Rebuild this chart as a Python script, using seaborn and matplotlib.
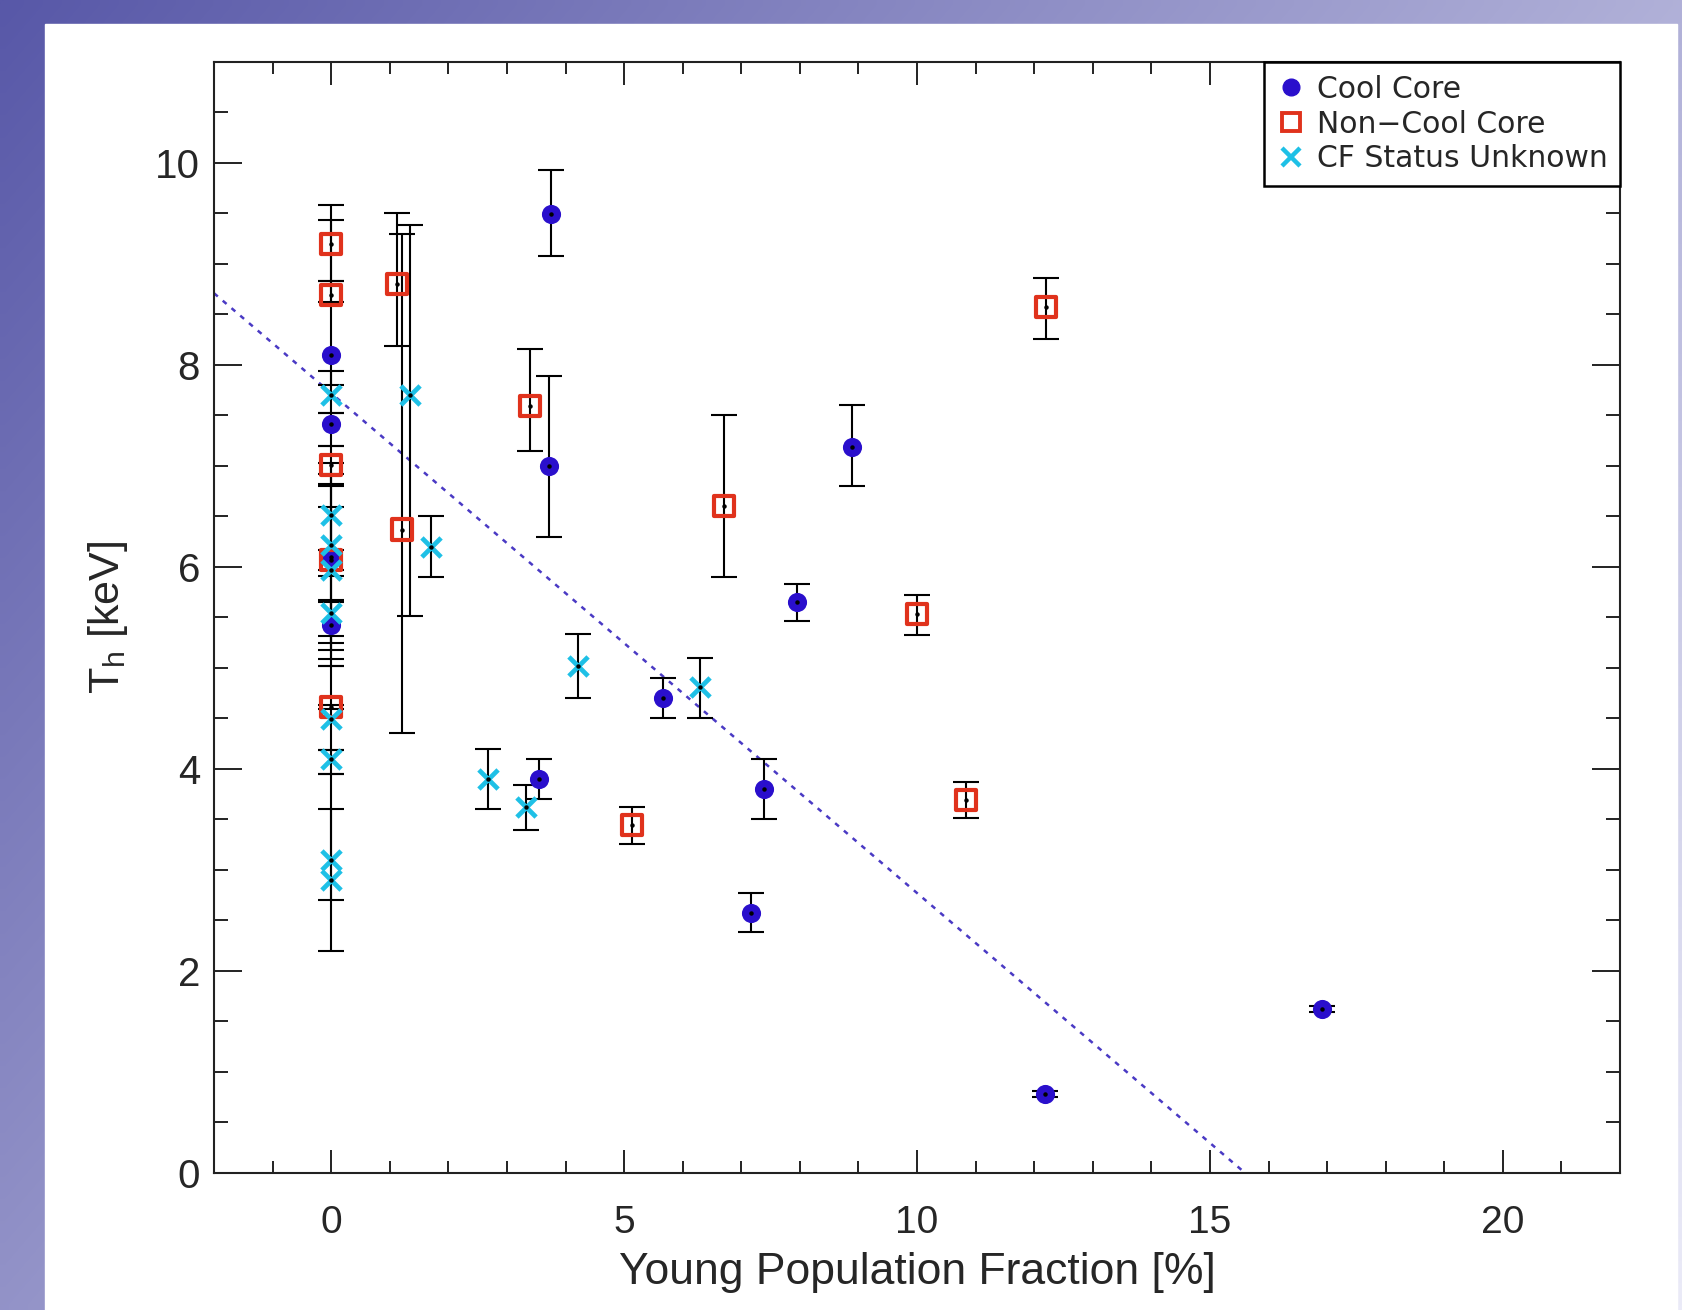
import matplotlib
matplotlib.use("Agg")
import matplotlib.pyplot as plt
from matplotlib.lines import Line2D
from matplotlib.patches import Rectangle
from matplotlib.ticker import MultipleLocator
import numpy as np
import pandas as pd
import seaborn as sns

# --- data ------------------------------------------------------------------
# Cool Core
cc_x = [0, 0, 0, 0, 3.75, 3.71, 8.89, 7.95, 5.66, 3.55, 7.39, 7.17, 12.19, 16.91]
cc_y = [8.10, 7.41, 6.10, 5.42, 9.49, 7.00, 7.19, 5.65, 4.70, 3.90, 3.80, 2.57, 0.78, 1.62]
cc_lo = [0.30, 0.21, 0.78, 0.40, 0.41, 0.70, 0.39, 0.19, 0.20, 0.20, 0.30, 0.19, 0.03, 0.03]
cc_hi = [0.73, 0.11, 0.70, 0.23, 0.44, 0.89, 0.41, 0.18, 0.20, 0.20, 0.30, 0.20, 0.03, 0.03]

# Non-Cool Core
ncc_x = [0, 0, 0, 0, 0, 1.13, 1.21, 3.39, 6.70, 5.14, 10.0, 10.83, 12.20]
ncc_y = [9.20, 8.69, 7.01, 6.07, 4.61, 8.80, 6.37, 7.59, 6.60, 3.44, 5.53, 3.69, 8.57]
ncc_lo = [0.37, 0.07, 0.19, 0.10, 0.02, 0.61, 2.02, 0.44, 0.70, 0.18, 0.20, 0.18, 0.31]
ncc_hi = [0.38, 0.75, 0.19, 0.10, 0.02, 0.70, 2.93, 0.57, 0.90, 0.18, 0.19, 0.18, 0.29]

# CF Status Unknown
unk_x = [0, 0, 0, 0, 0, 0, 0, 0, 0, 1.35, 1.70, 2.67, 3.33, 4.22, 6.29]
unk_y = [7.70, 6.51, 6.22, 5.97, 5.54, 4.49, 4.10, 3.10, 2.90, 7.70, 6.20, 3.90, 3.62, 5.02, 4.81]
unk_lo = [0.18, 0.60, 1.13, 0.72, 0.36, 0.30, 0.15, 0.40, 0.70, 2.19, 0.30, 0.30, 0.23, 0.32, 0.31]
unk_hi = [0.24, 0.52, 0.70, 0.62, 0.13, 0.53, 0.09, 0.85, 0.70, 1.69, 0.30, 0.30, 0.22, 0.32, 0.29]

group_names = ["Cool Core", "Non\u2212Cool Core", "CF Status Unknown"]

# dotted trend line y = a + b x
fit_intercept = 7.72
fit_slope = -0.495

x_limits = (-2, 22)
y_limits = (0, 11)

# --- table ------------------------------------------------------------------
frames = []
for name, xs, ys, lo, hi in [
    (group_names[0], cc_x, cc_y, cc_lo, cc_hi),
    (group_names[1], ncc_x, ncc_y, ncc_lo, ncc_hi),
    (group_names[2], unk_x, unk_y, unk_lo, unk_hi),
]:
    frames.append(pd.DataFrame({"group": name, "x": xs, "y": ys, "lo": lo, "hi": hi}))
df = pd.concat(frames, ignore_index=True)

BLUE = "#2a0fcc"
RED = "#e0321c"
CYAN = "#1ec0e6"
LINE = "#4a3ac4"

sns.set_theme(style="ticks")
plt.rcParams["font.family"] = ["Liberation Sans", "DejaVu Sans"]

W, H, DPI = 1682, 1310, 100
fig = plt.figure(figsize=(W / DPI, H / DPI), dpi=DPI)

# slide-like gradient background with a white panel
bg = fig.add_axes([0, 0, 1, 1], zorder=-10)
gy, gx = np.mgrid[0:1:131j, 0:1:168j]
t = (0.9 * gx + 0.6 * gy) / 1.5
c0 = np.array([88, 88, 168]) / 255
c1 = np.array([235, 235, 248]) / 255
grad = c0 + (c1 - c0) * t[..., None]
bg.imshow(grad, extent=[0, 1, 0, 1], aspect="auto", origin="upper", interpolation="bilinear")
bg.add_patch(Rectangle((45 / W, 0), (1677 - 45) / W, 1 - 24 / H, color="white",
                       transform=bg.transAxes))
bg.set_xlim(0, 1)
bg.set_ylim(0, 1)
bg.axis("off")

ax = fig.add_axes([214 / W, 1 - 1172.7 / H, (1620 - 214) / W, (1172.7 - 62) / H])
ax.set_facecolor("white")

# error bars first
ax.errorbar(df["x"], df["y"], yerr=[df["lo"], df["hi"]], fmt="none", ecolor="black",
            elinewidth=1.5, capsize=9.5, capthick=1.5, zorder=2)

sns.scatterplot(data=df[df["group"] == group_names[0]], x="x", y="y", ax=ax,
                marker="o", s=190, color=BLUE, edgecolor=BLUE, linewidth=0, zorder=3)
sns.scatterplot(data=df[df["group"] == group_names[1]], x="x", y="y", ax=ax,
                marker="s", s=210, facecolor="none", edgecolor=RED, linewidth=3, zorder=3)
sns.scatterplot(data=df[df["group"] == group_names[2]], x="x", y="y", ax=ax,
                marker="x", s=190, color=CYAN, linewidth=3.4, zorder=3)

# tiny black centre dots
ax.plot(df["x"], df["y"], ls="none", marker="o", ms=2.2, color="black", zorder=4)

# trend line
fit_x = np.array([x_limits[0], -fit_intercept / fit_slope])
fit_y = fit_intercept + fit_slope * fit_x
sns.lineplot(x=fit_x, y=fit_y, ax=ax, color=LINE, linewidth=1.8,
             linestyle=(0, (2, 2.6)), zorder=1)

ax.set_xlim(*x_limits)
ax.set_ylim(*y_limits)
ax.xaxis.set_major_locator(MultipleLocator(5))
ax.xaxis.set_minor_locator(MultipleLocator(1))
ax.yaxis.set_major_locator(MultipleLocator(2))
ax.yaxis.set_minor_locator(MultipleLocator(0.5))
ax.tick_params(which="both", direction="in", top=True, right=True, color="#222222")
ax.tick_params(axis="x", which="major", length=16.5, width=1.4, pad=23, labelsize=28)
ax.tick_params(axis="x", which="minor", length=8.5, width=1.4)
ax.tick_params(axis="y", which="major", length=20, width=1.4, pad=10, labelsize=29)
ax.tick_params(axis="y", which="minor", length=10, width=1.4)
for sp in ax.spines.values():
    sp.set_linewidth(1.5)
    sp.set_color("#222222")

ax.set_xlabel("Young Population Fraction [%]", fontsize=32)
ax.set_ylabel(r"$\mathregular{T_h}$ [keV]", fontsize=31)
ax.xaxis.set_label_coords(0.5, -0.071)
ax.yaxis.set_label_coords(-0.060, 0.5)

handles = [
    Line2D([], [], ls="none", marker="o", ms=12, color=BLUE),
    Line2D([], [], ls="none", marker="s", ms=13, mfc="none", mec=RED, mew=2.8),
    Line2D([], [], ls="none", marker="x", ms=13, mew=3.2, color=CYAN),
]
leg = ax.legend(handles, group_names, loc="upper right", bbox_to_anchor=(1, 1),
                borderaxespad=0, frameon=True, fancybox=False, edgecolor="black",
                framealpha=1, prop={"family": "DejaVu Sans", "size": 21.5},
                handlelength=1.0, handletextpad=0.35, borderpad=0.42, labelspacing=0.2)
leg.get_frame().set_linewidth(1.8)

fig.savefig("out.png", dpi=DPI)
